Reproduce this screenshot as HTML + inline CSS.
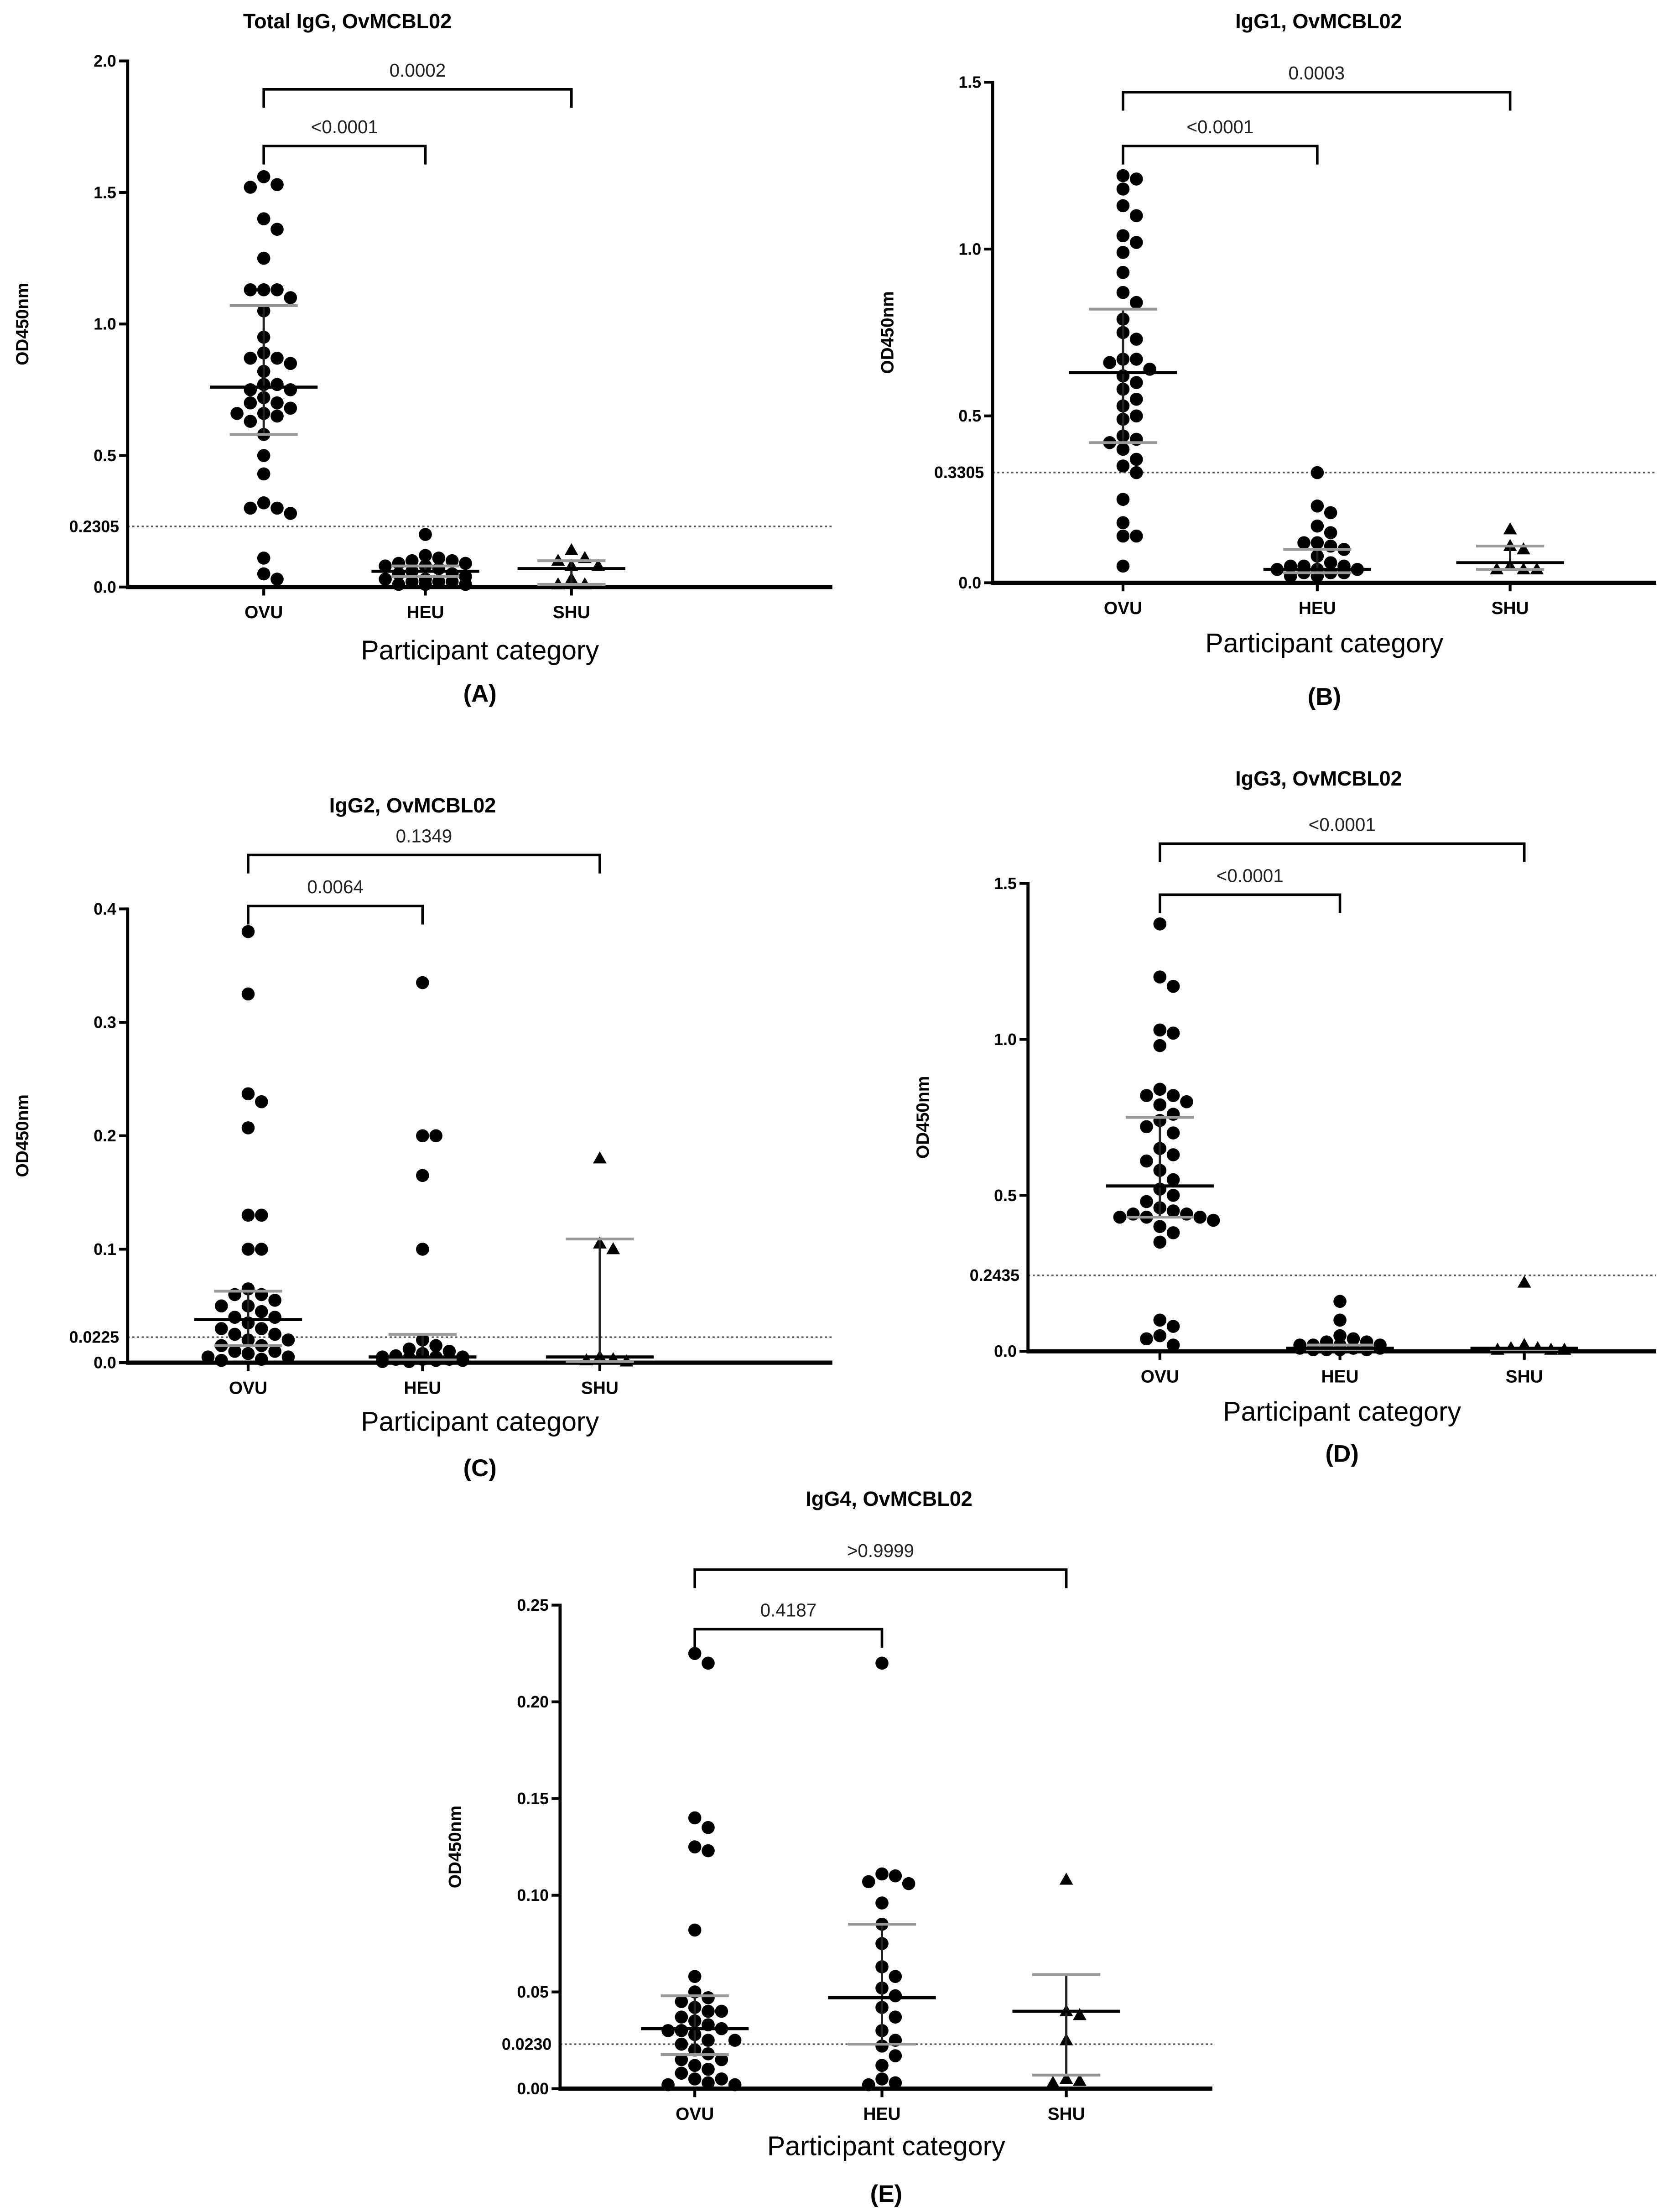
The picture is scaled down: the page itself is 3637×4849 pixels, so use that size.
<!DOCTYPE html>
<html><head><meta charset="utf-8"><style>
html,body{margin:0;padding:0;background:#fff}
svg{display:block}
text{font-family:"Liberation Sans","DejaVu Sans",sans-serif}
</style></head><body>
<svg id="fig" xmlns="http://www.w3.org/2000/svg" width="3637" height="4849" viewBox="0 0 1170 1560" preserveAspectRatio="none"></svg>
<script>
// ---- data ----
const categories = ["OVU","HEU","SHU"];
// Panel A Total IgG
const aOvu=[1.56,1.53,1.52,1.40,1.36,1.25,1.13,1.13,1.13,1.10,1.05,0.95,0.89,0.87,0.87,0.85,0.82,0.77,0.77,0.75,0.75,0.72,0.70,0.70,0.68,0.66,0.66,0.65,0.63,0.58,0.50,0.43,0.32,0.30,0.30,0.28,0.11,0.05,0.03];
const aHeu=[0.20,0.12,0.11,0.10,0.10,0.09,0.09,0.08,0.08,0.07,0.06,0.05,0.05,0.04,0.03,0.03,0.02,0.02,0.02,0.01,0.01,0.01];
const aShu=[0.14,0.11,0.10,0.08,0.08,0.03,0.01,0.01];
const aMed=[0.76,0.06,0.07], aQ1=[0.58,0.04,0.01], aQ3=[1.07,0.08,0.10];
const aTicks=[0,0.5,1.0,1.5,2.0], aTickLabels=["0.0","0.5","1.0","1.5","2.0"];
const aThr=0.2305, aThrLabel="0.2305", aP=["<0.0001","0.0002"];
// Panel B IgG1
const bOvu=[1.22,1.21,1.18,1.13,1.10,1.04,1.02,0.99,0.93,0.87,0.84,0.79,0.75,0.73,0.67,0.67,0.66,0.64,0.62,0.60,0.58,0.55,0.53,0.50,0.49,0.44,0.43,0.42,0.40,0.37,0.35,0.33,0.25,0.18,0.14,0.14,0.05];
const bHeu=[0.33,0.23,0.21,0.17,0.15,0.12,0.12,0.11,0.10,0.08,0.06,0.05,0.05,0.05,0.04,0.04,0.04,0.03,0.03,0.03,0.02,0.02];
const bShu=[0.16,0.11,0.10,0.05,0.04,0.04,0.04];
const bMed=[0.63,0.04,0.06], bQ1=[0.42,0.03,0.04], bQ3=[0.82,0.10,0.11];
const bTicks=[0,0.5,1.0,1.5], bTickLabels=["0.0","0.5","1.0","1.5"];
const bThr=0.3305, bThrLabel="0.3305", bP=["<0.0001","0.0003"];
// Panel C IgG2
const cOvu=[0.38,0.325,0.237,0.23,0.207,0.13,0.13,0.10,0.10,0.065,0.06,0.06,0.055,0.05,0.05,0.045,0.04,0.04,0.035,0.03,0.03,0.025,0.025,0.02,0.02,0.015,0.015,0.01,0.01,0.008,0.005,0.005,0.003,0.002];
const cHeu=[0.335,0.20,0.20,0.165,0.10,0.02,0.015,0.012,0.01,0.008,0.006,0.005,0.005,0.005,0.004,0.003,0.003,0.003,0.002,0.002,0.001,0.001];
const cShu=[0.18,0.105,0.10,0.005,0.003,0.002,0.001];
const cMed=[0.038,0.005,0.005], cQ1=[0.015,0.003,0.001], cQ3=[0.063,0.025,0.109];
const cTicks=[0,0.1,0.2,0.3,0.4], cTickLabels=["0.0","0.1","0.2","0.3","0.4"];
const cThr=0.0225, cThrLabel="0.0225", cP=["0.0064","0.1349"];
// Panel D IgG3
const dOvu=[1.37,1.20,1.17,1.03,1.02,0.98,0.84,0.82,0.82,0.80,0.79,0.76,0.74,0.72,0.70,0.65,0.63,0.61,0.58,0.55,0.52,0.50,0.48,0.46,0.45,0.44,0.44,0.43,0.43,0.43,0.42,0.40,0.38,0.35,0.10,0.08,0.05,0.04,0.02];
const dHeu=[0.16,0.10,0.05,0.04,0.03,0.03,0.02,0.02,0.02,0.02,0.01,0.01,0.01,0.01,0.01,0.01,0.01,0.01,0.005,0.005,0.005,0.005];
const dShu=[0.22,0.02,0.01,0.01,0.005,0.005,0.005];
const dMed=[0.53,0.01,0.01], dQ1=[0.43,0.005,0.005], dQ3=[0.75,0.02,0.01];
const dTicks=[0,0.5,1.0,1.5], dTickLabels=["0.0","0.5","1.0","1.5"];
const dThr=0.2435, dThrLabel="0.2435", dP=["<0.0001","<0.0001"];
// Panel E IgG4
const eOvu=[0.225,0.22,0.14,0.135,0.125,0.123,0.082,0.058,0.05,0.047,0.045,0.042,0.04,0.04,0.037,0.035,0.033,0.031,0.03,0.03,0.028,0.025,0.025,0.023,0.02,0.018,0.015,0.015,0.012,0.01,0.008,0.005,0.005,0.003,0.002,0.002];
const eHeu=[0.22,0.111,0.11,0.107,0.106,0.096,0.085,0.075,0.063,0.058,0.052,0.048,0.042,0.037,0.03,0.025,0.022,0.017,0.012,0.005,0.003,0.002];
const eShu=[0.108,0.04,0.038,0.025,0.005,0.004,0.003];
const eMed=[0.031,0.047,0.04], eQ1=[0.0176,0.023,0.007], eQ3=[0.048,0.085,0.059];
const eTicks=[0,0.05,0.10,0.15,0.20,0.25], eTickLabels=["0.00","0.05","0.10","0.15","0.20","0.25"];
const eThr=0.0230, eThrLabel="0.0230", eP=["0.4187",">0.9999"];

// ---- layout ----
const panels=[
 {id:"a",title:"Total IgG, OvMCBL02",tx:245,ty:20,ax:90,y0:414,yMax:2.0,yTop:43,xEnd:587,cx:[186,300,403],groups:[aOvu,aHeu,aShu],med:aMed,q1:aQ1,q3:aQ3,ticks:aTicks,tl:aTickLabels,thr:aThr,thrL:aThrLabel,p:aP,b1:103,b2:63,xl:465,letter:"(A)",ly:495},
 {id:"b",title:"IgG1, OvMCBL02",tx:930,ty:20,ax:700,y0:411,yMax:1.5,yTop:58,xEnd:1168,cx:[792,929,1065],groups:[bOvu,bHeu,bShu],med:bMed,q1:bQ1,q3:bQ3,ticks:bTicks,tl:bTickLabels,thr:bThr,thrL:bThrLabel,p:bP,b1:103,b2:65,xl:460,letter:"(B)",ly:497},
 {id:"c",title:"IgG2, OvMCBL02",tx:291,ty:573,ax:90,y0:961,yMax:0.4,yTop:641,xEnd:587,cx:[175,298,423],groups:[cOvu,cHeu,cShu],med:cMed,q1:cQ1,q3:cQ3,ticks:cTicks,tl:cTickLabels,thr:cThr,thrL:cThrLabel,p:cP,b1:639,b2:603,xl:1009,letter:"(C)",ly:1041},
 {id:"d",title:"IgG3, OvMCBL02",tx:930,ty:554,ax:725,y0:953,yMax:1.5,yTop:623,xEnd:1168,cx:[818,945,1075],groups:[dOvu,dHeu,dShu],med:dMed,q1:dQ1,q3:dQ3,ticks:dTicks,tl:dTickLabels,thr:dThr,thrL:dThrLabel,p:dP,b1:631,b2:595,xl:1002,letter:"(D)",ly:1031},
 {id:"e",title:"IgG4, OvMCBL02",tx:627,ty:1062,ax:395,y0:1473,yMax:0.25,yTop:1132,xEnd:855,cx:[490,622,752],groups:[eOvu,eHeu,eShu],med:eMed,q1:eQ1,q3:eQ3,ticks:eTicks,tl:eTickLabels,thr:eThr,thrL:eThrLabel,p:eP,b1:1149,b2:1107,xl:1520,letter:"(E)",ly:1553}
];
const NS="http://www.w3.org/2000/svg";
const svg=document.getElementById("fig");
function mk(tag,attrs,parent){const e=document.createElementNS(NS,tag);for(const k in attrs)e.setAttribute(k,attrs[k]);(parent||svg).appendChild(e);return e;}
function txt(str,attrs,parent){const e=mk("text",attrs,parent);e.textContent=str;return e;}
// beeswarm with bounded width: fallback places at least-overlapping slot
function swarm(vals,yf,r,maxK){const placed=[];const out=[];const step=r*2.05;
 const slots=[0];for(let k=1;k<=maxK;k++){slots.push(k*step,-k*step);}
 vals.forEach(v=>{const y=yf(v);let best=null,bestCost=1e9;
  for(const c of slots){let cost=0;for(const p of placed){const d=Math.hypot(p[0]-c,p[1]-y);if(d<r*2)cost+=(r*2-d);}
   if(cost===0){best=c;bestCost=0;break;}
   if(cost<bestCost){bestCost=cost;best=c;}}
  placed.push([best,y]);out.push([best,y]);});return out;}
panels.forEach(P=>{
 const g=mk("g",{});
 
 
 const y=v=>P.y0-(v/P.yMax)*(P.y0-P.yTop);
 const t=txt(P.title,{x:P.tx,y:P.ty,"text-anchor":"middle","font-size":14.5,"font-weight":"bold"},g);
 
 
 const th=mk("line",{x1:P.ax,x2:P.xEnd,y1:y(P.thr),y2:y(P.thr),stroke:"#555","stroke-width":1.1,"stroke-dasharray":"1.5,1.8"},g);
 
 
 const thl=txt(P.thrL,{x:P.ax-6,y:y(P.thr)+4,"text-anchor":"end","font-size":11.5,"font-weight":"bold"},g);
 
 
 const ya=mk("line",{x1:P.ax,x2:P.ax,y1:P.yTop-1,y2:P.y0+1.5,stroke:"#000","stroke-width":2.2},g);
 
 
 const xa=mk("line",{x1:P.ax,x2:P.xEnd,y1:P.y0,y2:P.y0,stroke:"#000","stroke-width":3},g);
 
 
 P.ticks.forEach((v,i)=>{
  mk("line",{x1:P.ax-6,x2:P.ax,y1:y(v),y2:y(v),stroke:"#000","stroke-width":2},g);
  const tl=txt(P.tl[i],{x:P.ax-8,y:y(v)+4,"text-anchor":"end","font-size":11.5,"font-weight":"bold"},g);
  
  
 });
 const yt=txt("OD450nm",{x:0,y:0,"text-anchor":"middle","font-size":12.5,"font-weight":"bold",transform:`translate(${P.ax-70},${(P.y0+P.yTop)/2}) rotate(-90)`},g);
 
 
 categories.forEach((c,i)=>{
  mk("line",{x1:P.cx[i],x2:P.cx[i],y1:P.y0,y2:P.y0+6,stroke:"#000","stroke-width":2},g);
  const cl=txt(c,{x:P.cx[i],y:P.y0+22,"text-anchor":"middle","font-size":12.5,"font-weight":"bold"},g);
  
  
 });
 const xt=txt("Participant category",{x:(P.ax+P.xEnd)/2,y:P.xl,"text-anchor":"middle","font-size":19},g);
 
 
 const lt=txt(P.letter,{x:(P.ax+P.xEnd)/2,y:P.ly,"text-anchor":"middle","font-size":17,"font-weight":"bold"},g);
 
 
 [[1,P.b1,P.p[0]],[2,P.b2,P.p[1]]].forEach(([j,by,lab])=>{
  const br=mk("path",{d:`M${P.cx[0]},${by+13} V${by} H${P.cx[j]} V${by+13}`,fill:"none",stroke:"#000","stroke-width":1.8},g);
  
  
  const bl=txt(lab,{x:(P.cx[0]+P.cx[j])/2,y:by-9,"text-anchor":"middle","font-size":13,fill:"#222"},g);
  
  
 });
 P.groups.forEach((vals,i)=>{
  const pts=swarm(vals,y,4.6,i===0?4:3);
  pts.forEach(([dx,py])=>{
   let m;
   if(i<2){m=mk("circle",{cx:P.cx[i]+dx,cy:py,r:4.6,fill:"#000"},g);}
   else{const x=P.cx[i]+dx;m=mk("path",{d:`M${x},${py-5} L${x+4.8},${py+3.5} L${x-4.8},${py+3.5} Z`,fill:"#000"},g);}
   
   
  });
  const cx=P.cx[i];
  const v=mk("line",{x1:cx,x2:cx,y1:y(P.q1[i]),y2:y(P.q3[i]),stroke:"#222","stroke-width":1.6},g);
  
  
  [P.q1[i],P.q3[i]].forEach(q=>{
   const c=mk("line",{x1:cx-24,x2:cx+24,y1:y(q),y2:y(q),stroke:"#999","stroke-width":2},g);
   
   
  });
  const md=mk("line",{x1:cx-38,x2:cx+38,y1:y(P.med[i]),y2:y(P.med[i]),stroke:"#000","stroke-width":2.2},g);
  
  
 });
});
</script>
</body></html>
